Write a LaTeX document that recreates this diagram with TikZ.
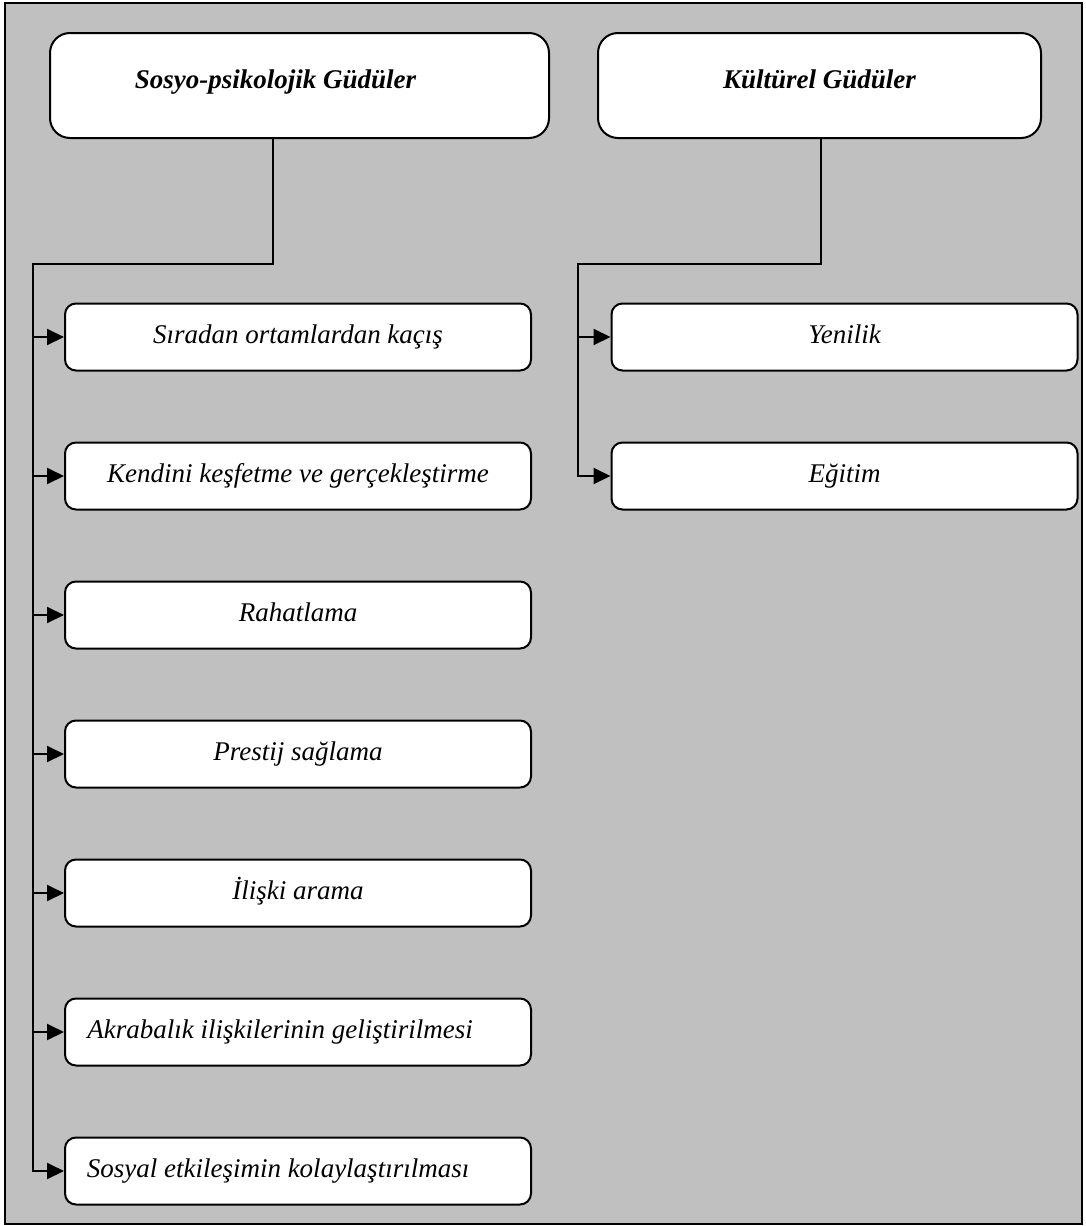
\documentclass[tikz,border=0pt]{standalone}
\usepackage{fontspec}
\setmainfont{Liberation Serif}
\usepackage{tikz}
\usetikzlibrary{arrows.meta, positioning}
\definecolor{panel}{HTML}{C0C0C0}
\definecolor{darkline}{HTML}{000000}
\tikzset{
  titlebox/.style={
    rectangle, rounded corners=20pt,
    minimum height=105pt,
    text centered, draw=darkline, line width=2pt,
    fill=white, font=\fontsize{27}{32}\selectfont\bfseries\itshape,
    text height=19pt, text depth=13pt,
  },
  childbox/.style={
    rectangle, rounded corners=11pt,
    minimum width=466pt, minimum height=67pt,
    text centered, draw=darkline, line width=2pt,
    fill=white, font=\fontsize{27}{32}\selectfont\itshape,
    text height=19pt, text depth=7pt,
  },
  link/.style={line width=2pt, color=darkline},
  arrow/.style={-{Triangle[length=17pt, width=16pt]}, line width=2pt, color=darkline},
}
\begin{document}
\begin{tikzpicture}[x=1pt, y=-1pt, node distance=70pt]

  \useasboundingbox (0,0) rectangle (1085,1226);
  \draw[fill=panel, line width=2pt] (5,3) rectangle (1082,1224);

  \node[titlebox, minimum width=499pt] (sosyo) at (299.5,85.5) {Sosyo-psikolojik Güdüler\hspace*{48pt}};
  \node[titlebox, minimum width=443pt] (kultur) at (819.5,85.5) {Kültürel Güdüler};

  \node[childbox] (s1) at (298,337) {Sıradan ortamlardan kaçış};
  \node[childbox, below=of s1] (s2) {Kendini keşfetme ve gerçekleştirme};
  \node[childbox, below=of s2] (s3) {Rahatlama};
  \node[childbox, below=of s3] (s4) {Prestij sağlama};
  \node[childbox, below=of s4] (s5) {İlişki arama};
  \node[childbox, below=of s5] (s6) {Akrabalık ilişkilerinin geliştirilmesi\hspace*{36pt}};
  \node[childbox, below=of s6] (s7) {Sosyal etkileşimin kolaylaştırılması\hspace*{40pt}};

  \node[childbox] (k1) at (844.5,337) {Yenilik};
  \node[childbox, below=of k1] (k2) {Eğitim};

  \coordinate (lbend) at (33,264);
  \coordinate (rbend) at (578,264);

  \draw[arrow] ([xshift=-27pt]sosyo.south) |- (lbend) |- (s7.west);
  \foreach \n in {s1,s2,s3,s4,s5,s6}
    \draw[arrow] (lbend |- \n.west) -- (\n.west);

  \draw[arrow] ([xshift=1.5pt]kultur.south) |- (rbend) |- (k2.west);
  \draw[arrow] (rbend |- k1.west) -- (k1.west);

\end{tikzpicture}
\end{document}
